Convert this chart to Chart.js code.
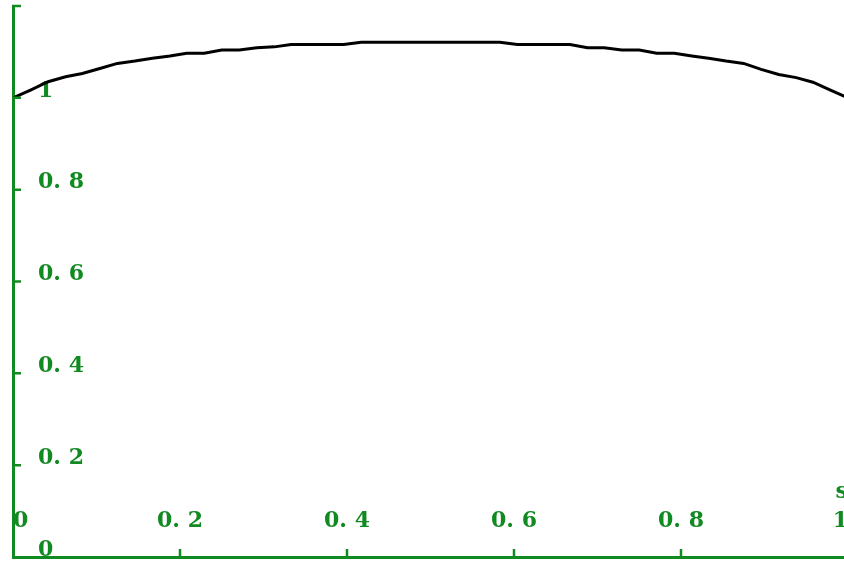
<!DOCTYPE html>
<html>
<head>
<meta charset="utf-8">
<script src="https://cdn.jsdelivr.net/npm/chart.js@4/dist/chart.umd.min.js"></script>
<style>
  html, body { margin: 0; padding: 0; background: #fff; overflow: hidden; }
  canvas { display: block; }
</style>
</head>
<body>
<canvas id="curva" width="849" height="561"></canvas>
<script>
/* ==========================
   Dados
   ========================== */
const posicoesX = [
  0, 0.021, 0.042, 0.063, 0.083, 0.104, 0.125, 0.146, 0.167, 0.188,
  0.208, 0.229, 0.25, 0.271, 0.292, 0.313, 0.333, 0.354, 0.375, 0.396,
  0.417, 0.438, 0.458, 0.479, 0.5, 0.521, 0.542, 0.563, 0.583, 0.604,
  0.625, 0.646, 0.667, 0.688, 0.708, 0.729, 0.75, 0.771, 0.792, 0.813,
  0.833, 0.854, 0.875, 0.896, 0.917, 0.938, 0.958, 0.979, 1,
];
const valoresY = [
  1.000, 1.017, 1.035, 1.046, 1.053, 1.064, 1.075, 1.080, 1.086, 1.091,
  1.097, 1.097, 1.104, 1.104, 1.109, 1.111, 1.116, 1.116, 1.116, 1.116,
  1.121, 1.121, 1.121, 1.121, 1.121, 1.121, 1.121, 1.121, 1.121, 1.116,
  1.116, 1.116, 1.116, 1.109, 1.109, 1.104, 1.104, 1.097, 1.097, 1.091,
  1.086, 1.080, 1.075, 1.062, 1.051, 1.044, 1.034, 1.017, 1.000,
];
const rotulosX = ["0", "0. 2", "0. 4", "0. 6", "0. 8", "1"];
const rotulosY = ["0", "0. 2", "0. 4", "0. 6", "0. 8", "1", ""];
const tituloX = "s";

const VERDE = "#128a22";
const FONTE = { family: "'DejaVu Serif', serif", size: 22, weight: "bold" };

// marquinhas dos eixos voltadas para dentro do gráfico
const marcasInternas = {
  id: "marcasInternas",
  afterDraw(chart) {
    const { ctx, chartArea, scales } = chart;
    ctx.save();
    ctx.strokeStyle = VERDE;
    ctx.lineWidth = 2.5;
    ctx.beginPath();
    scales.x.ticks.forEach((t) => {
      if (t.value === 0) return;
      const px = scales.x.getPixelForValue(t.value);
      ctx.moveTo(px, chartArea.bottom);
      ctx.lineTo(px, chartArea.bottom - 8);
    });
    scales.y.ticks.forEach((t) => {
      if (t.value === 0) return;
      const py = scales.y.getPixelForValue(t.value);
      ctx.moveTo(chartArea.left - 1, py);
      ctx.lineTo(chartArea.left + 8, py);
    });
    ctx.stroke();
    ctx.restore();
  },
};

// sem folgas extras: os rótulos ficam dentro da área do gráfico
function semFolga(s, tamanho) {
  if (s.isHorizontal()) s.height = tamanho;
  else s.width = tamanho;
  s.paddingTop = 0;
  s.paddingBottom = 0;
  s.paddingLeft = 0;
  s.paddingRight = 0;
}

new Chart(document.getElementById("curva").getContext("2d"), {
  type: "line",
  data: {
    datasets: [
      {
        data: posicoesX.map((x, i) => ({ x, y: valoresY[i] })),
        borderColor: "#000",
        borderWidth: 3,
        pointRadius: 0,
        tension: 0,
        fill: false,
      },
    ],
  },
  options: {
    responsive: false,
    animation: false,
    devicePixelRatio: 1,
    layout: { padding: { top: 6, left: 0, right: 1, bottom: 0 } },
    plugins: { legend: { display: false }, tooltip: { enabled: false } },
    scales: {
      x: {
        type: "linear",
        min: 0,
        max: 1,
        afterFit: (s) => semFolga(s, 4),
        grid: { display: true, drawOnChartArea: false, drawTicks: false },
        border: { display: true, color: VERDE, width: 3 },
        ticks: {
          stepSize: 0.2,
          mirror: true,
          padding: 23,
          color: VERDE,
          font: FONTE,
          align: "inner",
          maxRotation: 0,
          autoSkip: false,
          callback: (v, i) => rotulosX[i],
        },
        title: {
          display: true,
          text: tituloX,
          align: "end",
          color: VERDE,
          font: FONTE,
          padding: { top: 0, bottom: 56 },
        },
      },
      y: {
        type: "linear",
        min: 0,
        max: 1.2,
        afterFit: (s) => semFolga(s, 13),
        grid: { display: true, drawOnChartArea: false, drawTicks: false },
        border: { display: true, color: VERDE, width: 3 },
        ticks: {
          stepSize: 0.2,
          mirror: true,
          padding: 25,
          labelOffset: -7,
          color: VERDE,
          font: FONTE,
          autoSkip: false,
          callback: (v, i) => rotulosY[i],
        },
      },
    },
  },
  plugins: [marcasInternas],
});
</script>
</body>
</html>
